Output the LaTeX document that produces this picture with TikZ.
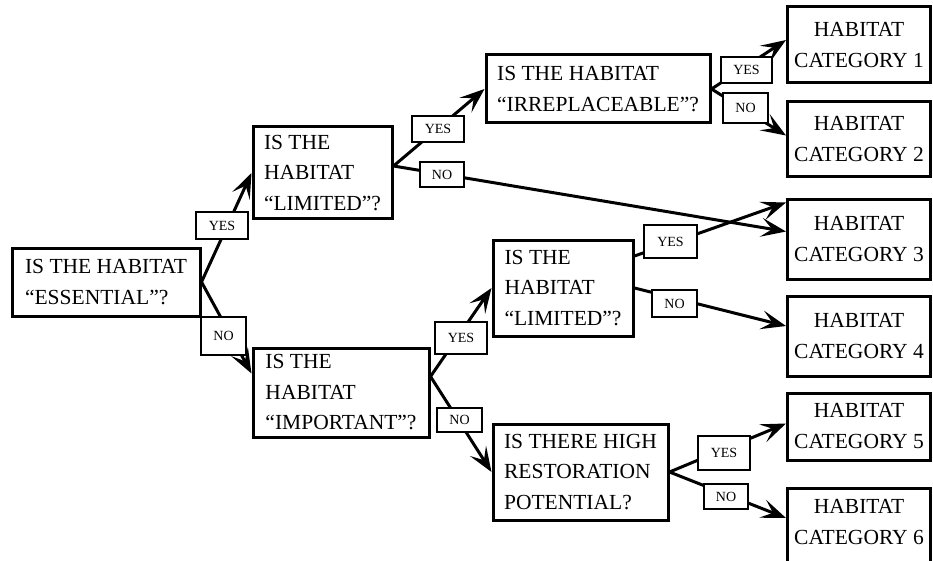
\documentclass[tikz,border=0pt]{standalone}
\usepackage{fontspec}
\setmainfont{Liberation Serif}
\usetikzlibrary{arrows.meta}
\begin{document}
\begin{tikzpicture}[x=1pt,y=-1pt,line width=3pt,
  question/.style={draw,align=left,inner sep=0pt,font=\fontsize{21.5}{30.5}\selectfont},
  category/.style={draw,align=center,inner sep=0pt,minimum width=143pt,font=\fontsize{21.5}{31}\selectfont},
  answer/.style={draw,fill=white,line width=1.8pt,inner sep=0pt,font=\fontsize{14}{14}\selectfont},
  branch/.style={-{Stealth[length=25pt,width=19pt,inset=11pt]}}]
\useasboundingbox (0,0) rectangle (933,561);
\clip (0,0) rectangle (933,561);
\node[question,minimum width=188pt,minimum height=68pt] (ess) at (106,282) {IS THE HABITAT\\“ESSENTIAL”?};
\node[question,minimum width=139pt,minimum height=92pt] (lim1) at (322.5,173) {IS THE\\HABITAT\\“LIMITED”?};
\node[question,minimum width=224pt,minimum height=68pt] (irr) at (598,89) {IS THE HABITAT\\“IRREPLACEABLE”?};
\node[question,minimum width=176pt,minimum height=89pt] (imp) at (341,392.5) {IS THE\\HABITAT\\“IMPORTANT”?};
\node[question,minimum width=140pt,minimum height=96pt] (lim2) at (563,288) {IS THE\\HABITAT\\“LIMITED”?};
\node[question,minimum width=175pt,minimum height=96pt] (res) at (580.5,472) {IS THERE HIGH\\RESTORATION\\POTENTIAL?};
\node[category,minimum height=76pt] (cat1) at (859,45) {HABITAT\\CATEGORY 1};
\node[category,minimum height=75pt] (cat2) at (859,139.5) {HABITAT\\CATEGORY 2};
\node[category,minimum height=79pt] (cat3) at (859,239.5) {HABITAT\\CATEGORY 3};
\node[category,minimum height=80pt] (cat4) at (859,336) {HABITAT\\CATEGORY 4};
\node[category,minimum height=67pt] (cat5) at (859,426.5) {HABITAT\\CATEGORY 5};
\node[category,minimum height=80pt] (cat6) at (859,528) {HABITAT\\CATEGORY 6\\[-19pt]\mbox{}};
\draw[branch] (ess.east) -- (lim1.west);
\draw[branch] (ess.east) -- ([yshift=19pt]imp.west);
\draw[branch] ([yshift=7pt]lim1.east) -- (irr.west);
\draw[branch] ([yshift=7pt]lim1.east) -- ([yshift=8pt]cat3.west);
\draw[branch] (irr.east) -- ([yshift=5pt]cat1.west);
\draw[branch] (irr.east) -- ([yshift=4pt]cat2.west);
\draw[branch] ([yshift=16pt]imp.east) -- (lim2.west);
\draw[branch] ([yshift=16pt]imp.east) -- (res.west);
\draw[branch] ([yshift=32pt]lim2.east) -- ([yshift=37pt]cat3.west);
\draw[branch] (lim2.east) -- ([yshift=10pt]cat4.west);
\draw[branch] (res.east) -- ([yshift=3pt]cat5.west);
\draw[branch] (res.east) -- ([yshift=10pt]cat6.west);
\node[answer,minimum width=52pt,minimum height=27pt] (yesEss) at (222,225.5) {YES};
\node[answer,minimum width=45pt,minimum height=38pt] (noEss) at (223.5,336) {NO};
\node[answer,minimum width=52pt,minimum height=26pt] (yesLimA) at (438,129) {YES};
\node[answer,minimum width=44pt,minimum height=25pt] (noLimA) at (442,174.5) {NO};
\node[answer,minimum width=51pt,minimum height=26pt] (yesIrr) at (746.5,70) {YES};
\node[answer,minimum width=45pt,minimum height=30pt] (noIrr) at (745.5,108) {NO};
\node[answer,minimum width=52pt,minimum height=32pt] (yesImp) at (461,338) {YES};
\node[answer,minimum width=45pt,minimum height=24pt] (noImp) at (459.5,420) {NO};
\node[answer,minimum width=53pt,minimum height=33pt] (yesLimB) at (670.5,241.5) {YES};
\node[answer,minimum width=45pt,minimum height=27pt] (noLimB) at (674.5,303.5) {NO};
\node[answer,minimum width=52pt,minimum height=34pt] (yesRes) at (724,453) {YES};
\node[answer,minimum width=44pt,minimum height=25pt] (noRes) at (726,496.5) {NO};
\end{tikzpicture}
\end{document}
